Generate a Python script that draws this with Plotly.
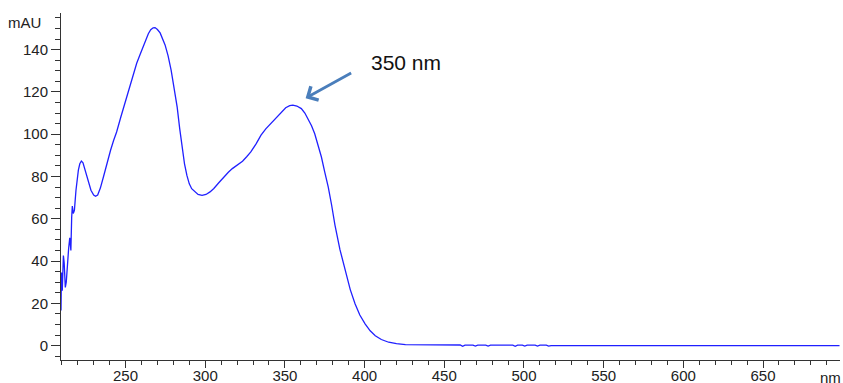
import plotly.graph_objects as go

# UV absorbance spectrum (wavelength in nm, absorbance in mAU)
wavelength_nm = [
    209.5, 209.8, 210.3, 211.0, 211.5, 212.2, 212.8, 213.4, 214.3, 215.0,
    215.7, 216.2, 216.6, 217.2, 217.9, 218.9, 219.3, 220.4, 221.3, 222.3,
    223.3, 224.8, 226.5, 228.3, 230.0, 231.2, 232.5, 234.2, 236.2, 238.4,
    240.6, 242.5, 244.4, 247.0, 250.1, 252.5, 254.6, 257.0, 259.0, 261.0,
    262.8, 264.3, 265.8, 267.3, 268.5, 270.0, 271.7, 273.3, 274.8, 276.7,
    278.6, 280.5, 282.4, 284.0, 285.6, 287.0, 288.5, 290.0, 291.5, 293.5,
    295.5, 298.0, 300.5, 303.0, 305.4, 308.5, 311.7, 314.5, 317.0, 320.0,
    323.4, 326.0, 328.6, 332.0, 335.0, 338.0, 341.3, 344.5, 347.6, 350.5,
    353.0, 355.0, 357.5, 360.3, 362.5, 364.5, 366.7, 368.7, 370.8, 372.9,
    375.0, 377.2, 379.3, 381.4, 384.5, 387.7, 391.0, 394.0, 397.0, 400.3,
    403.5, 406.7, 410.5, 415.1, 420.0, 425.6, 440.0, 460.0, 461.5, 463.0,
    468.0, 469.5, 471.0, 476.0, 477.5, 479.0, 493.0, 494.5, 496.0, 499.0,
    500.5, 502.0, 507.0, 508.5, 510.0, 514.0, 515.5, 517.0, 698.0,
]
absorbance_mau = [
    16.6, 34.6, 26.0, 42.6, 39.0, 27.5, 30.0, 39.0, 46.0, 51.0,
    45.0, 60.7, 66.0, 62.5, 64.0, 73.5, 77.0, 83.0, 86.0, 87.3,
    86.5, 82.5, 77.5, 73.5, 71.2, 70.6, 71.2, 74.5, 80.0, 86.5,
    92.4, 97.0, 101.0, 108.0, 116.0, 122.5, 128.0, 133.5, 137.4, 141.2,
    144.5, 147.5, 149.4, 150.3, 150.4, 149.5, 147.9, 145.3, 142.2, 137.0,
    130.3, 121.5, 112.8, 102.5, 93.0, 86.0, 80.5, 76.5, 74.2, 72.6,
    71.5, 71.1, 71.5, 72.7, 74.3, 77.0, 79.8, 82.0, 83.7, 85.3,
    87.2, 89.3, 91.6, 95.5, 99.5, 102.5, 105.2, 108.0, 110.6, 112.5,
    113.5, 113.7, 113.3, 112.1, 110.0, 107.3, 104.0, 100.2, 95.0, 89.2,
    82.0, 75.0, 66.5, 57.0, 45.5, 35.5, 26.5, 19.8, 14.5, 10.3,
    7.0, 4.7, 2.9, 1.6, 0.9, 0.5, 0.3, 0.3, -0.3, 0.2,
    0.2, -0.2, 0.2, 0.2, -0.2, 0.2, 0.2, -0.3, 0.2, 0.2,
    -0.2, 0.2, 0.2, -0.2, 0.2, 0.2, -0.2, 0.0, 0.0,
]

x_ticks = [250, 300, 350, 400, 450, 500, 550, 600, 650]
y_ticks = [0, 20, 40, 60, 80, 100, 120, 140]

peak_label = "350 nm"
peak_arrow_head = (363.0, 117.0)

FONT = "Liberation Sans, Arial, sans-serif"
AXIS_COLOR = "#333333"
TEXT_COLOR = "#222222"

fig = go.Figure()
fig.add_trace(go.Scatter(
    x=wavelength_nm,
    y=absorbance_mau,
    mode="lines",
    line=dict(color="#2020ff", width=1.3),
    hoverinfo="skip",
))

fig.update_layout(
    width=843,
    height=383,
    margin=dict(l=61, r=3, t=13, b=23, autoexpand=False),
    paper_bgcolor="white",
    plot_bgcolor="white",
    showlegend=False,
    font=dict(family=FONT, size=15, color=TEXT_COLOR),
)

fig.update_xaxes(
    range=[209.5, 698.3],
    automargin=False,
    tickmode="array",
    tickvals=x_ticks,
    ticktext=[str(v) for v in x_ticks],
    ticks="outside",
    ticklen=7,
    tickwidth=1,
    tickcolor=AXIS_COLOR,
    ticklabelstandoff=-5,
    showline=True,
    linecolor=AXIS_COLOR,
    linewidth=1,
    showgrid=False,
    zeroline=False,
    tickfont=dict(family=FONT, size=15, color=TEXT_COLOR),
    minor=dict(dtick=10, tick0=0, ticks="outside", ticklen=4,
               tickcolor=AXIS_COLOR, showgrid=False),
)

fig.update_yaxes(
    range=[-6.8, 157.3],
    automargin=False,
    tickmode="array",
    tickvals=y_ticks,
    ticktext=[str(v) for v in y_ticks],
    ticks="outside",
    ticklen=9,
    tickwidth=1,
    tickcolor=AXIS_COLOR,
    showline=True,
    linecolor=AXIS_COLOR,
    linewidth=1,
    showgrid=False,
    zeroline=False,
    tickfont=dict(family=FONT, size=15, color=TEXT_COLOR),
    minor=dict(dtick=5, tick0=0, ticks="outside", ticklen=5,
               tickcolor=AXIS_COLOR, showgrid=False),
)

# Axis unit labels
fig.add_annotation(
    text="mAU", xref="paper", yref="paper", x=0, y=1,
    xanchor="right", yanchor="middle", xshift=-18, yshift=-9,
    showarrow=False, font=dict(family=FONT, size=15, color=TEXT_COLOR),
)
fig.add_annotation(
    text="nm", xref="paper", yref="paper", x=1, y=0,
    xanchor="left", yanchor="top", xshift=-22, yshift=-7,
    showarrow=False, font=dict(family=FONT, size=15, color=TEXT_COLOR),
)

# Peak marker: arrow pointing at the long-wavelength band
fig.add_annotation(
    x=peak_arrow_head[0], y=peak_arrow_head[1], xref="x", yref="y",
    text="", showarrow=True, arrowhead=4, arrowsize=1.1, arrowwidth=2.8,
    arrowcolor="#4a7ebb", ax=47, ay=-26, axref="pixel", ayref="pixel",
)
fig.add_annotation(
    x=peak_arrow_head[0], y=peak_arrow_head[1], xref="x", yref="y",
    text=peak_label, showarrow=False, xanchor="center", yanchor="middle",
    xshift=100, yshift=36,
    font=dict(family=FONT, size=21, color="#111111"),
)

fig.write_html("out.html")
